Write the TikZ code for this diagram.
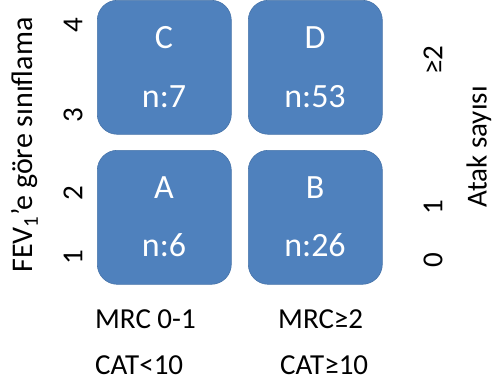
\documentclass[tikz,border=0pt]{standalone}
\usepackage{fontspec}
\setmainfont{Carlito}
\begin{document}
\begin{tikzpicture}[x=1pt,y=-1pt,
  cell/.style={draw=cellblue!90!black, line width=0.6pt, fill=cellblue, rounded corners=20pt,
    minimum width=134pt, minimum height=134pt, inner sep=0pt, anchor=north west},
  celltext/.style={text=white, font=\fontsize{34}{40}\selectfont, inner sep=0pt},
  lbl/.style={font=\fontsize{29}{33}\selectfont, inner sep=0pt, text=black}]
\definecolor{cellblue}{HTML}{4F81BD}
\useasboundingbox (0,0) rectangle (494,383);
% quadrant boxes
\node[cell] (c) at (97,0) {};
\node[cell] (d) at (248,0) {};
\node[cell] (a) at (97,150) {};
\node[cell] (b) at (248,150) {};
% box captions
\node[celltext] (ct) at (164,38) {C};
\node[celltext] (cn) at (164,97) {n:7};
\node[celltext] (dt) at (315,38) {D};
\node[celltext] (dn) at (315,97) {n:53};
\node[celltext] (at) at (164,188) {A};
\node[celltext] (an) at (164,245) {n:6};
\node[celltext] (bt) at (315,188) {B};
\node[celltext] (bn) at (315,245) {n:26};
% left axis
\node[lbl, rotate=90, font=\fontsize{30}{34}\selectfont] (ylab) at (25,145) {FEV\textsubscript{1}’e göre sınıflama};
\node[lbl, rotate=90] (y4) at (73,25) {4};
\node[lbl, rotate=90] (y3) at (73,115) {3};
\node[lbl, rotate=90] (y2) at (73,193) {2};
\node[lbl, rotate=90] (y1) at (73,257) {1};
% right axis
\node[lbl, rotate=90] (r2) at (433,60) {≥2};
\node[lbl, rotate=90] (r1) at (433,207) {1};
\node[lbl, rotate=90] (r0) at (433,260) {0};
\node[lbl, rotate=90] (rlab) at (479,147) {Atak sayısı};
% bottom labels
\node[lbl, anchor=west] (m1) at (95,319) {MRC 0-1};
\node[lbl, anchor=west] (m2) at (278,319) {MRC≥2};
\node[lbl, anchor=west] (k1) at (95,365) {CAT<10};
\node[lbl, anchor=west] (k2) at (280,365) {CAT≥10};
\end{tikzpicture}
\end{document}
